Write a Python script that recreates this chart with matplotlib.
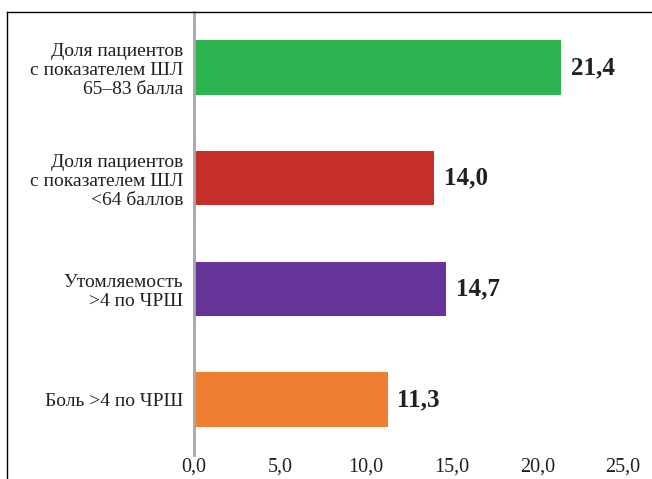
import matplotlib.pyplot as plt
from matplotlib.lines import Line2D

# данные
categories = [
    "Доля пациентов\nс показателем ШЛ\n65–83 балла",
    "Доля пациентов\nс показателем ШЛ\n<64 баллов",
    "Утомляемость\n>4 по ЧРШ",
    "Боль >4 по ЧРШ",
]
values = [21.4, 14.0, 14.7, 11.3]
colors = ["#2db350", "#c5302a", "#663399", "#ee7f31"]
xticks = [0, 5, 10, 15, 20, 25]

plt.rcParams['font.family'] = ['Liberation Serif', 'DejaVu Serif']

fig = plt.figure(figsize=(6.52, 4.79), dpi=100)
ax = fig.add_axes([194 / 652, 1 - 455 / 479, 429 / 652, 443 / 479])

ypos = list(range(len(categories)))
ax.barh(ypos, values, height=0.49, color=colors)
ax.set_ylim(len(categories) - 0.5, -0.5)
ax.set_xlim(0, 25)

for y, v in zip(ypos, values):
    ax.text(v + 0.55, y, f"{v:.1f}".replace(".", ","), va="center", ha="left",
            fontsize=18, fontweight="bold", color="#231f20")

ax.set_yticks(ypos)
ax.set_yticklabels(categories, fontsize=14, color="#231f20", linespacing=1.17)
ax.set_xticks(xticks)
ax.set_xticklabels([f"{t:.1f}".replace(".", ",") for t in xticks], fontsize=14.5, color="#231f20")
ax.tick_params(axis="both", length=0)
ax.tick_params(axis="y", pad=8)
ax.tick_params(axis="x", pad=2)

for s in ["top", "right", "bottom"]:
    ax.spines[s].set_visible(False)
ax.spines["left"].set_color("#a6a6a6")
ax.spines["left"].set_linewidth(2)

# рамка
ytop = 1 - 12 / 479
xl = 7 / 652
fig.add_artist(Line2D([xl, 1], [ytop, ytop], color="black", lw=1, transform=fig.transFigure))
fig.add_artist(Line2D([xl, xl], [0, ytop], color="black", lw=1, transform=fig.transFigure))

fig.savefig("out.png", dpi=100)
